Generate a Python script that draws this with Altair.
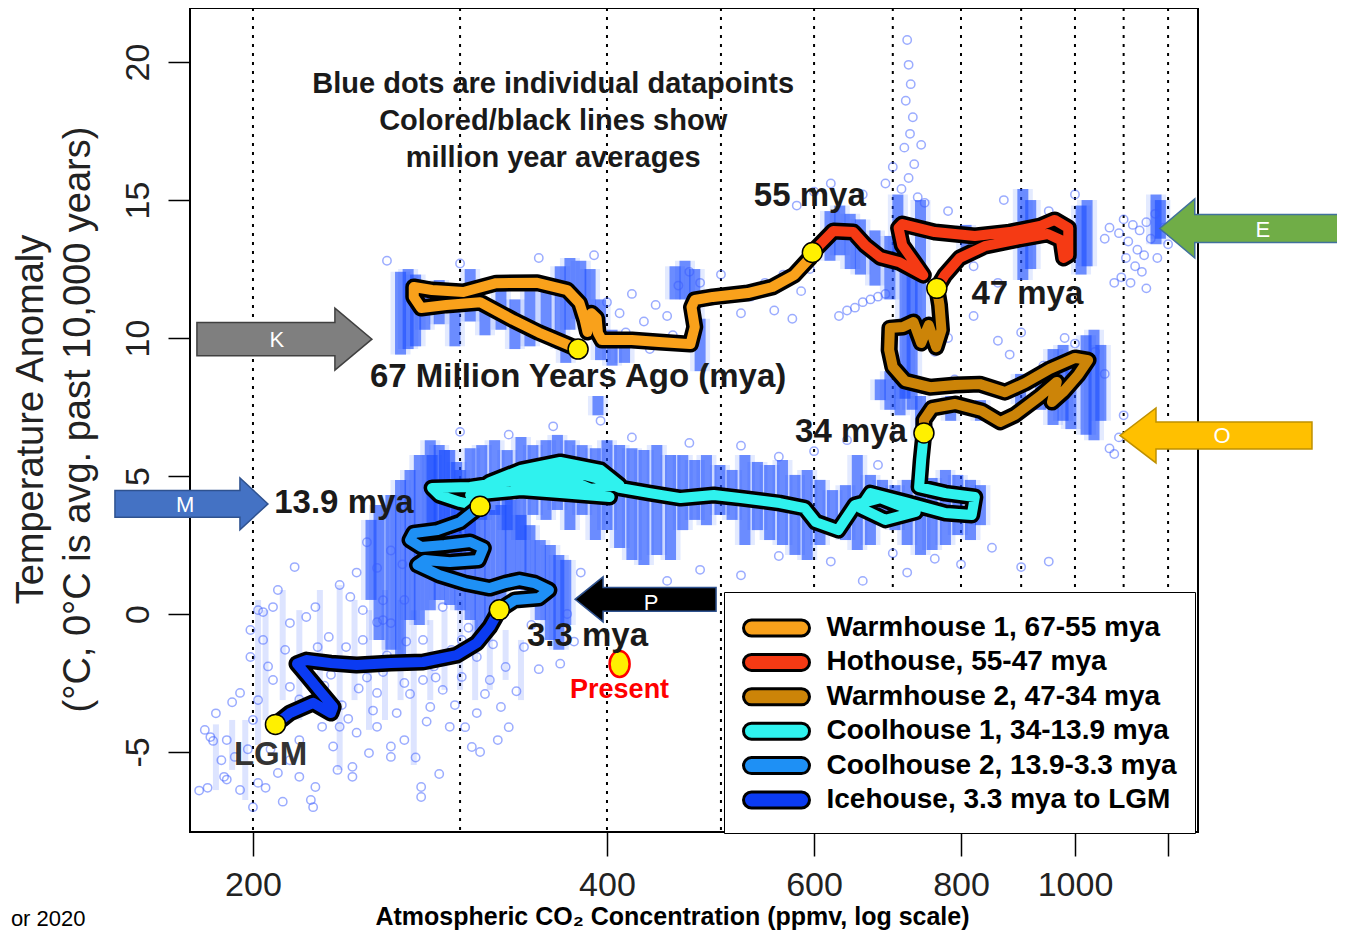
import altair as alt
import pandas as pd

FONT = "Liberation Sans"

# ---------------- axes ----------------
X_DOMAIN = [176.8, 1272.4]
Y_DOMAIN = [-7.9, 21.96]
X_TICKS = [200, 400, 600, 800, 1000, 1200]
Y_TICKS = [-5, 0, 5, 10, 15, 20]
GRID_CO2 = [200, 300, 400, 500, 600, 700, 800, 900, 1000, 1100, 1200]

PERIODS = ["Warmhouse 1, 67-55 mya", "Hothouse, 55-47 mya", "Warmhouse 2, 47-34 mya",
           "Coolhouse 1, 34-13.9 mya", "Coolhouse 2, 13.9-3.3 mya", "Icehouse, 3.3 mya to LGM"]
COLORS = ["#F9A11B", "#F53A14", "#CC8408", "#2FF2EE", "#1E90F5", "#0B3BF2"]

# ---------------- million-year-average paths (CO2 ppmv, temperature anomaly) ----------------
WH1_CO2 = [378, 350, 333, 312, 292, 278, 274, 274, 284, 302, 322, 349, 370, 379, 383, 385, 388, 392,
           393, 396, 420, 443, 471, 475, 472, 475, 492, 527, 553, 577, 595, 598]
WH1_T = [9.6, 10.2, 10.65, 11.3, 11.2, 11.09, 11.49, 11.85, 11.74, 11.67, 11.99, 12.0, 11.74, 11.27,
         10.65, 10.22, 10.9, 10.72, 10.18, 9.93, 9.93, 9.86, 9.78, 10.4, 11.12, 11.38, 11.49, 11.63,
         11.85, 12.28, 12.9, 13.1]

HOT_CO2 = [598, 623, 648, 663, 683, 709, 743, 730, 713, 708, 713, 760, 822, 880, 934, 961, 987, 987,
           978, 973, 948, 898, 838, 798, 775, 763]
HOT_T = [13.1, 13.88, 13.84, 13.37, 12.93, 12.75, 12.28, 12.75, 13.37, 13.99, 14.13, 13.84, 13.7,
         13.84, 14.06, 14.28, 13.99, 13.0, 12.9, 13.55, 13.77, 13.59, 13.33, 12.9, 12.28, 11.8]

WH2_CO2 = [763, 767, 770, 762, 751, 740, 729, 714, 696, 695, 700, 717, 753, 791, 830, 872, 907, 952,
           1000, 1026, 1006, 977, 956, 965, 934, 889, 864, 833, 791, 756, 744, 744]
WH2_T = [11.8, 11.2, 10.29, 9.67, 10.47, 9.82, 10.58, 10.4, 10.36, 9.57, 8.95, 8.44, 8.22, 8.3, 8.33,
         8.04, 8.37, 8.88, 9.28, 9.2, 8.66, 8.04, 7.68, 8.41, 7.9, 7.21, 6.96, 7.36, 7.61, 7.46, 7.03, 6.56]

CH1_CO2 = [744, 740, 737, 776, 822, 817, 776, 717, 670, 657, 690, 732, 683, 650, 629, 602, 589, 561,
           520, 493, 462, 435, 410, 391, 369, 344, 328, 351, 380, 410, 395, 365, 338, 318, 306, 338,
           365, 402, 372, 344, 306, 284, 288, 300, 312]
CH1_T = [6.56, 5.58, 4.6, 4.38, 4.24, 3.59, 3.66, 4.06, 4.38, 3.84, 3.41, 3.7, 4.2, 3.95, 3.04, 3.33,
         3.84, 4.02, 4.2, 4.31, 4.2, 4.38, 4.57, 4.93, 5.22, 5.22, 4.86, 4.57, 4.49, 4.67, 5.22, 5.51,
         5.22, 4.78, 4.31, 4.49, 4.38, 4.24, 4.86, 4.93, 4.6, 4.57, 4.31, 4.06, 3.9]

CH2_CO2 = [312, 300, 287, 274, 272, 278, 291, 306, 314, 311, 294, 280, 276, 288, 303, 318, 328, 337,
           347, 357, 350, 334, 324]
CH2_T = [3.9, 3.33, 3.04, 2.93, 2.68, 2.43, 2.5, 2.61, 2.39, 1.96, 1.88, 1.96, 1.78, 1.41, 1.12, 0.94,
         1.12, 1.23, 1.12, 0.87, 0.58, 0.51, 0.15]

ICE_CO2 = [324, 318, 310, 298, 279, 262, 245, 233, 222, 218, 222, 228, 234, 233, 225, 215, 209]
ICE_T = [0.15, -0.47, -1.05, -1.49, -1.74, -1.78, -1.85, -1.78, -1.67, -1.8, -2.2, -2.8, -3.37, -3.59,
         -3.22, -3.59, -4.0]

# milestone dots
MS_CO2 = [378, 598, 763, 744, 312, 324, 209]
MS_T = [9.6, 13.1, 11.8, 6.56, 3.9, 0.15, -4.0]
PRESENT_CO2 = [410]
PRESENT_T = [-1.81]

# ---------------- individual datapoints ----------------
# dense vertical streaks of datapoints: (co2, lowest T, highest T)
WH1_STREAKS = [(267, 9.4, 12.4), (271, 9.6, 12.5), (275, 9.7, 12.3), (280, 10.3, 11.7), (288, 10.5, 12.1),
               (297, 9.7, 11.7), (306, 10.6, 12.5), (315, 10.1, 11.4), (325, 10.3, 11.9), (334, 9.6, 11.4),
               (344, 9.7, 11.7), (355, 9.9, 12.1), (365, 9.6, 12.6), (372, 10.3, 12.9), (380, 10.7, 12.8),
               (387, 11.0, 12.5), (395, 9.2, 11.4), (404, 9.0, 10.3), (414, 9.1, 10.1), (457, 11.4, 12.6),
               (466, 11.4, 12.8), (475, 10.7, 12.5), (480, 8.8, 10.7), (369, 9.1, 9.9), (393, 7.2, 7.9)]
HOT_STREAKS = [(619, 12.8, 14.6), (631, 13.0, 14.8), (644, 12.5, 14.5), (657, 12.3, 14.3), (676, 11.9, 13.9),
               (696, 11.4, 13.7), (707, 12.8, 15.2), (717, 7.8, 13.2), (727, 7.4, 12.5), (739, 10.3, 15.0),
               (808, 13.0, 14.1), (903, 12.1, 15.4), (917, 12.5, 15.0), (1012, 12.3, 14.8), (1024, 12.6, 15.0),
               (1172, 13.4, 15.2), (1182, 13.6, 15.0)]
WH2_STREAKS = [(958, 6.85, 9.6), (977, 7.0, 9.75), (992, 6.7, 9.4), (1022, 6.5, 10.1), (1038, 6.3, 10.3),
               (1052, 7.0, 9.75), (935, 7.4, 8.8), (899, 7.6, 8.7), (696, 7.4, 8.8), (710, 7.2, 8.7),
               (739, 6.3, 7.9), (683, 7.75, 8.5), (784, 7.0, 7.9), (831, 7.0, 7.75)]
CH1_STREAKS = [(284, 2.5, 5.76), (291, 2.68, 5.94), (298, 1.96, 5.51), (306, 2.68, 6.01), (313, 3.41, 6.12),
               (321, 3.59, 6.3), (329, 3.04, 5.94), (338, 2.68, 6.41), (346, 3.59, 6.12), (355, 3.41, 6.3),
               (363, 3.77, 6.49), (372, 3.04, 6.3), (381, 3.59, 6.12), (391, 2.68, 6.01), (400, 3.04, 6.3),
               (410, 2.39, 6.12), (420, 1.96, 6.01), (430, 1.78, 5.94), (441, 2.14, 6.12), (453, 1.96, 5.76),
               (464, 3.04, 5.76), (475, 3.41, 5.58), (486, 3.22, 5.76), (499, 3.59, 5.4), (511, 3.41, 5.22),
               (524, 2.5, 5.76), (537, 3.04, 5.51), (550, 2.68, 5.4), (564, 2.5, 5.58), (578, 2.14, 5.04),
               (592, 1.96, 5.22), (607, 2.5, 4.86), (622, 3.04, 4.49), (638, 2.68, 4.67), (653, 2.32, 5.76),
               (670, 2.5, 5.04), (686, 3.22, 4.86), (703, 3.04, 4.67), (720, 2.5, 4.86), (739, 2.14, 4.78),
               (756, 2.32, 4.93), (776, 2.5, 5.22), (795, 2.86, 5.04), (815, 2.68, 4.86), (831, 3.22, 4.67)]
CH2_STREAKS = [(252, 0.51, 3.41), (256, -0.94, 3.95), (262, -1.3, 4.31), (267, -1.67, 4.86), (272, -0.22, 5.22),
               (277, -0.4, 5.76), (283, 0.14, 6.3), (288, 0.51, 6.12), (294, 0.33, 5.94), (300, 0.14, 5.22),
               (306, -0.22, 4.86), (312, -0.94, 4.13), (318, -0.4, 3.77), (325, 0.51, 3.95), (331, 1.23, 4.13),
               (338, 0.87, 3.59), (344, 0.51, 3.22), (351, -0.22, 2.68), (358, -0.94, 2.5), (364, -1.3, 2.14),
               (369, -0.4, 1.96)]
ICE_STREAKS = [(202, -4.75, 0.51), (205, -3.84, 0.14), (212, -3.12, 0.87), (219, -3.84, 0.14), (228, -2.75, 0.87),
               (237, -5.65, 1.05), (244, -3.12, 0.51), (251, -4.2, 0.14), (259, -3.84, 0.87), (267, -3.12, 0.51),
               (274, -5.47, 0.14), (283, -3.12, -0.22), (291, -2.75, 0.14), (300, -2.75, 0.51), (309, -3.12, -0.22),
               (318, -2.75, -0.4), (328, -2.39, -0.58), (338, -3.12, -0.94), (186, -6.38, -4.0), (192, -5.65, -3.84),
               (197, -6.74, -3.84)]

# scattered single datapoints: (co2, T)
ICE_DOTS = [(217, 1.7), (237, 1.05), (210, 0.87), (202, 0.14), (204, 0.07), (255, 1.67), (258, -0.22), (248, 0.14),
            (195, -2.86), (199, -1.56), (204, -0.94), (215, -0.33), (226, 0.25), (232, -0.83), (248, -0.94),
            (262, -0.33), (269, 0.51), (279, -0.94), (290, 0.25), (310, -1.56), (318, -2.39), (310, -3.59),
            (323, -4.57), (307, -4.82), (294, -4.09), (283, -3.37), (269, -4.57), (278, -6.27), (278, -6.63),
            (262, -5.18), (251, -5.04), (243, -5.54), (243, -5.9), (236, -5.65), (226, -6.27), (224, -6.74),
            (219, -5.9), (210, -5.76), (202, -6.12), (195, -6.38), (189, -5.9), (183, -6.3), (184, -4.46),
            (190, -4.57), (193, -5.18), (219, -4.57), (229, -4.09), (237, -4.09), (255, -4.09), (265, -3.59),
            (208, -2.39), (215, -2.64), (202, -3.12), (200, -3.84), (255, -2.86), (269, -2.5), (290, -2.75),
            (301, -2.28), (301, -0.94), (325, -3.37), (328, -1.92), (323, -0.22), (279, -2.39), (222, -0.11),
            (242, 0.62), (208, 0.25), (199, -0.58), (182, -4.2), (185, -4.6), (188, -5.3), (180, -6.4),
            (190, -6.0), (186, -3.6), (192, -3.2), (198, -4.9), (205, -6.3), (212, -6.8), (200, -7.0),
            (215, -5.3), (225, -7.0), (240, -1.2), (250, -2.3), (260, -1.5), (270, -1.0), (285, -1.9),
            (295, -1.3), (305, -0.5), (315, 0.9), (230, -2.6), (238, -3.3), (245, -4.3), (262, -4.8),
            (275, -5.2), (288, -5.8), (312, -5.0), (330, -4.1), (335, -2.8), (340, -1.2), (345, -0.4),
            (206, -1.9), (213, -1.3), (221, -2.0), (227, -1.2), (233, -2.2), (246, -2.7), (253, -3.5),
            (258, -2.1), (266, -1.7), (272, -2.9), (281, -3.9), (286, -2.3), (297, -3.3), (303, -4.1),
            (315, -2.9), (320, -1.1), (207, -4.9), (213, -3.9), (219, -3.1), (234, -4.8), (241, -3.8)]
CH2_DOTS = [(262, 2.3), (268, 1.8), (275, 3.0), (258, 0.5), (255, -0.3), (370, 0.0), (375, -1.0), (380, 1.5),
            (365, -1.8), (350, -2.0), (245, 1.5), (250, 2.6)]
WARM_DOTS = [(400, 11.3), (410, 10.9), (420, 11.6), (430, 10.6), (440, 11.2), (450, 10.8), (460, 11.9),
             (415, 10.2), (435, 9.6), (455, 10.1), (470, 12.4), (480, 12.0), (500, 12.3), (520, 10.9),
             (530, 11.5), (545, 12.0), (555, 11.0), (565, 12.3), (575, 10.7), (585, 11.7), (595, 12.5),
             (630, 10.8), (640, 11.0), (650, 11.1), (660, 11.3), (670, 11.4), (680, 11.5), (690, 11.6),
             (600, 15.3), (620, 15.6), (580, 14.8), (260, 12.8), (300, 12.7), (350, 12.9), (390, 13.0)]
HOT_DOTS = [(720, 20.8), (722, 19.9), (725, 19.2), (718, 18.6), (728, 18.0), (724, 17.4), (716, 16.9),
            (730, 16.3), (722, 15.8), (712, 15.4), (735, 15.1), (700, 16.2), (740, 17.0), (690, 15.6),
            (660, 15.2), (745, 14.9), (1060, 13.6), (1070, 14.0), (1090, 13.8), (1100, 14.3), (1105, 12.9),
            (1110, 13.5), (1120, 14.1), (1125, 12.6), (1130, 13.2), (1135, 13.9), (1140, 12.4), (1145, 13.0),
            (1150, 14.2), (1160, 13.6), (1170, 14.5), (1175, 12.9), (1095, 12.2), (1115, 12.0), (1150, 11.8),
            (1190, 14.0), (1200, 13.4), (1080, 12.0), (950, 14.6), (1000, 15.2), (870, 15.0), (780, 14.6),
            (820, 12.6), (860, 12.0)]
WH2_DOTS = [(820, 10.8), (860, 9.9), (880, 9.4), (900, 10.2), (940, 9.0), (980, 10.0), (1000, 9.8),
            (1040, 9.5), (1060, 8.7), (1070, 6.0), (1080, 5.8), (1090, 6.4), (1100, 7.2), (790, 8.5),
            (760, 9.5), (780, 10.0)]
COOL_DOTS = [(330, 6.5), (360, 6.8), (420, 6.4), (470, 6.2), (520, 6.1), (560, 5.7), (600, 5.9), (640, 6.3),
             (680, 5.4), (700, 2.2), (760, 2.0), (800, 1.8), (850, 2.4), (720, 1.5), (620, 1.9), (560, 2.1),
             (480, 1.6), (900, 1.7), (950, 1.9), (300, 6.6), (395, 7.0), (450, 1.2), (520, 1.4), (660, 1.2)]

# ---------------- text ----------------
NOTE_LINES = ["Blue dots are individual datapoints", "Colored/black lines show", "million year averages"]
NOTE_CO2 = [360, 360, 360]
NOTE_T = [19.2, 17.86, 16.52]

LABELS = ["55 mya", "47 mya", "67 Million Years Ago (mya)", "34 mya", "13.9 mya", "3.3 mya"]
LABEL_CO2 = [595, 911, 378, 645, 239, 385]
LABEL_T = [15.14, 11.6, 8.59, 6.6, 4.02, -0.8]

# ---------------- build tables ----------------
rows = []
for name, col, cs, ts in zip(PERIODS, COLORS, [WH1_CO2, HOT_CO2, WH2_CO2, CH1_CO2, CH2_CO2, ICE_CO2],
                             [WH1_T, HOT_T, WH2_T, CH1_T, CH2_T, ICE_T]):
    for i, (c, t) in enumerate(zip(cs, ts)):
        rows.append({"series": name, "col": col, "co2": c, "t": t, "i": i})
lines_df = pd.DataFrame(rows)

dense_df = pd.DataFrame(WH1_STREAKS + HOT_STREAKS + WH2_STREAKS + CH1_STREAKS + CH2_STREAKS,
                        columns=["co2", "t", "t2"])
faint_df = pd.DataFrame(ICE_STREAKS, columns=["co2", "t", "t2"])
dots_df = pd.DataFrame(ICE_DOTS + CH2_DOTS + WARM_DOTS + HOT_DOTS + WH2_DOTS + COOL_DOTS, columns=["co2", "t"])
grid_df = pd.DataFrame({"co2": GRID_CO2})
ms_df = pd.DataFrame({"co2": MS_CO2, "t": MS_T})
present_df = pd.DataFrame({"co2": PRESENT_CO2, "t": PRESENT_T})
note_df = pd.DataFrame({"co2": NOTE_CO2, "t": NOTE_T, "label": NOTE_LINES})
label_df = pd.DataFrame({"co2": LABEL_CO2, "t": LABEL_T, "label": LABELS})

# ---------------- scales / axes ----------------
xs = alt.Scale(type="log", domain=X_DOMAIN, nice=False)
ys = alt.Scale(domain=Y_DOMAIN, nice=False, zero=False)

x_axis = alt.Axis(values=X_TICKS, labelExpr="datum.value == 1200 ? '' : '' + datum.value",
                  grid=False, domain=False, tickSize=24, tickWidth=1.5, tickColor="black",
                  labelFont=FONT, labelFontSize=34, labelColor="#222222", labelPadding=12,
                  labelBaseline="top", labelFlush=False, labelOverlap=False,
                  title="Atmospheric CO₂ Concentration (ppmv,  log scale)", titleFont=FONT,
                  titleFontSize=25, titleFontWeight="bold", titleColor="black",
                  titleX=482, titleY=92.5, titleBaseline="alphabetic", titleAlign="center")
y_axis = alt.Axis(values=Y_TICKS, labelExpr="'' + datum.value", grid=False, domain=False,
                  tickSize=22, tickWidth=1.5, tickColor="black", labelAngle=270, labelAlign="center",
                  labelBaseline="alphabetic", labelPadding=20, labelFont=FONT, labelFontSize=34,
                  labelColor="#222222", labelFlush=False, labelOverlap=False,
                  title=["Temperature Anomaly", "(°C, 0°C is avg. past 10,000 years)"],
                  titleFont=FONT, titleFontSize=38, titleFontWeight="normal", titleColor="#222222",
                  titleAngle=270, titleX=-148, titleY=411, titleBaseline="alphabetic",
                  titleAlign="center", titleLineHeight=47)


def X(f="co2"):
    return alt.X(f"{f}:Q", scale=xs, axis=x_axis)


def Y(f="t"):
    return alt.Y(f"{f}:Q", scale=ys, axis=y_axis)


# legend swatch: a rounded bar twice as wide as the nominal symbol box
STADIUM = ("M-1.515,-0.485L1.515,-0.485A0.485,0.485 0 0 1 1.515,0.485"
           "L-1.515,0.485A0.485,0.485 0 0 1 -1.515,-0.485Z")
ELLIPSE = "M0,-1A0.77,1 0 1 1 0,1A0.77,1 0 1 1 0,-1Z"

layers = []

# dotted grid
layers.append(alt.Chart(grid_df).mark_rule(color="black", strokeWidth=2, strokeDash=[3, 6])
              .encode(x=X()))

# datapoint streaks
layers.append(alt.Chart(faint_df).mark_rule(color="#2a55ff", strokeWidth=6, opacity=0.16)
              .encode(x=X(), y=Y(), y2="t2:Q"))
layers.append(alt.Chart(dense_df).mark_rule(color="#2a5cff", strokeWidth=20, opacity=0.13)
              .encode(x=X(), y=Y(), y2="t2:Q"))
layers.append(alt.Chart(dense_df).mark_rule(color="#1a4dff", strokeWidth=11, opacity=0.6)
              .encode(x=X(), y=Y(), y2="t2:Q"))
layers.append(alt.Chart(dots_df).mark_point(shape="circle", filled=False, size=70, strokeWidth=1.5,
                                            color="#3a5cff", opacity=0.5)
              .encode(x=X(), y=Y()))

# paths: black outline then colour, one period at a time
for name in PERIODS:
    base = alt.Chart(lines_df).transform_filter(alt.datum.series == name)
    layers.append(base.mark_line(color="black", strokeWidth=17, strokeCap="round", strokeJoin="round")
                  .encode(x=X(), y=Y(), order="i:Q"))
    layers.append(base.mark_line(strokeWidth=10, strokeCap="round", strokeJoin="round")
                  .encode(x=X(), y=Y(), order="i:Q", color=alt.Color("col:N", scale=None)))

# legend carrier (draws nothing itself)
legend = alt.Legend(title=None, orient="none", legendX=534, legendY=584, direction="vertical",
                    symbolType=STADIUM, symbolSize=1089, symbolOffset=16.5,
                    symbolStrokeColor="black", symbolStrokeWidth=3, symbolOpacity=1,
                    labelFont=FONT, labelFontSize=28, labelFontWeight="bold",
                    labelColor="black", labelLimit=0, labelOffset=32, rowPadding=1.4, padding=18,
                    strokeColor="black", fillColor="white")
layers.append(alt.Chart(lines_df).transform_filter("false")
              .mark_point(filled=True, shape=STADIUM, size=1089, stroke="black", strokeWidth=3, opacity=1)
              .encode(x=X(), y=Y(),
                      fill=alt.Fill("series:N", scale=alt.Scale(domain=PERIODS, range=COLORS),
                                    legend=legend, sort=PERIODS)))

# milestone dots
layers.append(alt.Chart(ms_df).mark_point(shape="circle", filled=True, size=400, fill="#FFF000",
                                          stroke="black", strokeWidth=1.5, opacity=1)
              .encode(x=X(), y=Y()))
layers.append(alt.Chart(present_df).mark_point(shape=ELLIPSE, filled=True, size=676, fill="#FFF000",
                                               stroke="#FF0000", strokeWidth=2.5, opacity=1)
              .encode(x=X(), y=Y()))

# texts
layers.append(alt.Chart(note_df).mark_text(font=FONT, fontSize=29, fontWeight="bold", color="#1a1a1a",
                                           align="center", baseline="middle")
              .encode(x=X(), y=Y(), text="label:N"))
layers.append(alt.Chart(label_df).mark_text(font=FONT, fontSize=33, fontWeight="bold", color="#1a1a1a",
                                            align="center", baseline="middle")
              .encode(x=X(), y=Y(), text="label:N"))
layers.append(alt.Chart(pd.DataFrame({"co2": [207], "t": [-5.1], "label": ["LGM"]}))
              .mark_text(font=FONT, fontSize=33, fontWeight="bold", color="#333333", align="center",
                         baseline="middle")
              .encode(x=X(), y=Y(), text="label:N"))
layers.append(alt.Chart(pd.DataFrame({"co2": [410], "t": [-2.75], "label": ["Present"]}))
              .mark_text(font=FONT, fontSize=27, fontWeight="bold", color="#FF0000", align="center",
                         baseline="middle")
              .encode(x=X(), y=Y(), text="label:N"))
layers.append(alt.Chart(pd.DataFrame({"co2": [124.5], "t": [-11.3], "label": ["or 2020"]}))
              .mark_text(font=FONT, fontSize=22, color="black", align="left", baseline="alphabetic")
              .encode(x=X(), y=Y(), text="label:N"))

# block arrows
ARROWS = [
    dict(letter="K", co2=212.7, t=9.96, lco2=209.6, lt=9.93, size=30625, fill="#7F7F7F", stroke="#404040",
         path="M-1,-0.189L0.577,-0.189L0.577,-0.354L1,0L0.577,0.354L0.577,0.189L-1,0.189Z"),
    dict(letter="E", co2=1436, t=13.97, lco2=1445, lt=13.9, size=40000, fill="#70AD47", stroke="#41719C",
         path="M1,-0.14L-0.65,-0.14L-0.65,-0.295L-1,0L-0.65,0.295L-0.65,0.14L1,0.14Z"),
    dict(letter="O", co2=1318, t=6.47, lco2=1334, lt=6.45, size=36864, fill="#FFC000", stroke="#BF9000",
         path="M1,-0.141L-0.625,-0.141L-0.625,-0.286L-1,0L-0.625,0.286L-0.625,0.141L1,0.141Z"),
    dict(letter="M", co2=177.3, t=3.99, lco2=175.1, lt=3.95, size=23409, fill="#4472C4", stroke="#2F528F",
         path="M-1,-0.176L0.634,-0.176L0.634,-0.34L1,0L0.634,0.34L0.634,0.176L-1,0.176Z"),
    dict(letter="P", co2=431.4, t=0.53, lco2=436, lt=0.4, size=19881, fill="#000000", stroke="#2F528F",
         path="M1,-0.17L-0.603,-0.17L-0.603,-0.319L-1,0L-0.603,0.319L-0.603,0.17L1,0.17Z"),
]
for a in ARROWS:
    layers.append(alt.Chart(pd.DataFrame({"co2": [a["co2"]], "t": [a["t"]]}))
                  .mark_point(shape=a["path"], filled=True, size=a["size"], fill=a["fill"],
                              stroke=a["stroke"], strokeWidth=1.5, opacity=1)
                  .encode(x=X(), y=Y()))
    layers.append(alt.Chart(pd.DataFrame({"co2": [a["lco2"]], "t": [a["lt"]], "label": [a["letter"]]}))
                  .mark_text(font=FONT, fontSize=22, color="white", align="center", baseline="middle")
                  .encode(x=X(), y=Y(), text="label:N"))

chart = (alt.layer(*layers)
         .properties(width=1008, height=824, autosize=alt.AutoSizeParams(type="none"),
                     padding={"left": 182, "top": 0, "right": 139, "bottom": 98})
         .configure_view(stroke="black", strokeWidth=2))

chart.save("out.html", embed_options={"renderer": "svg", "actions": False})
